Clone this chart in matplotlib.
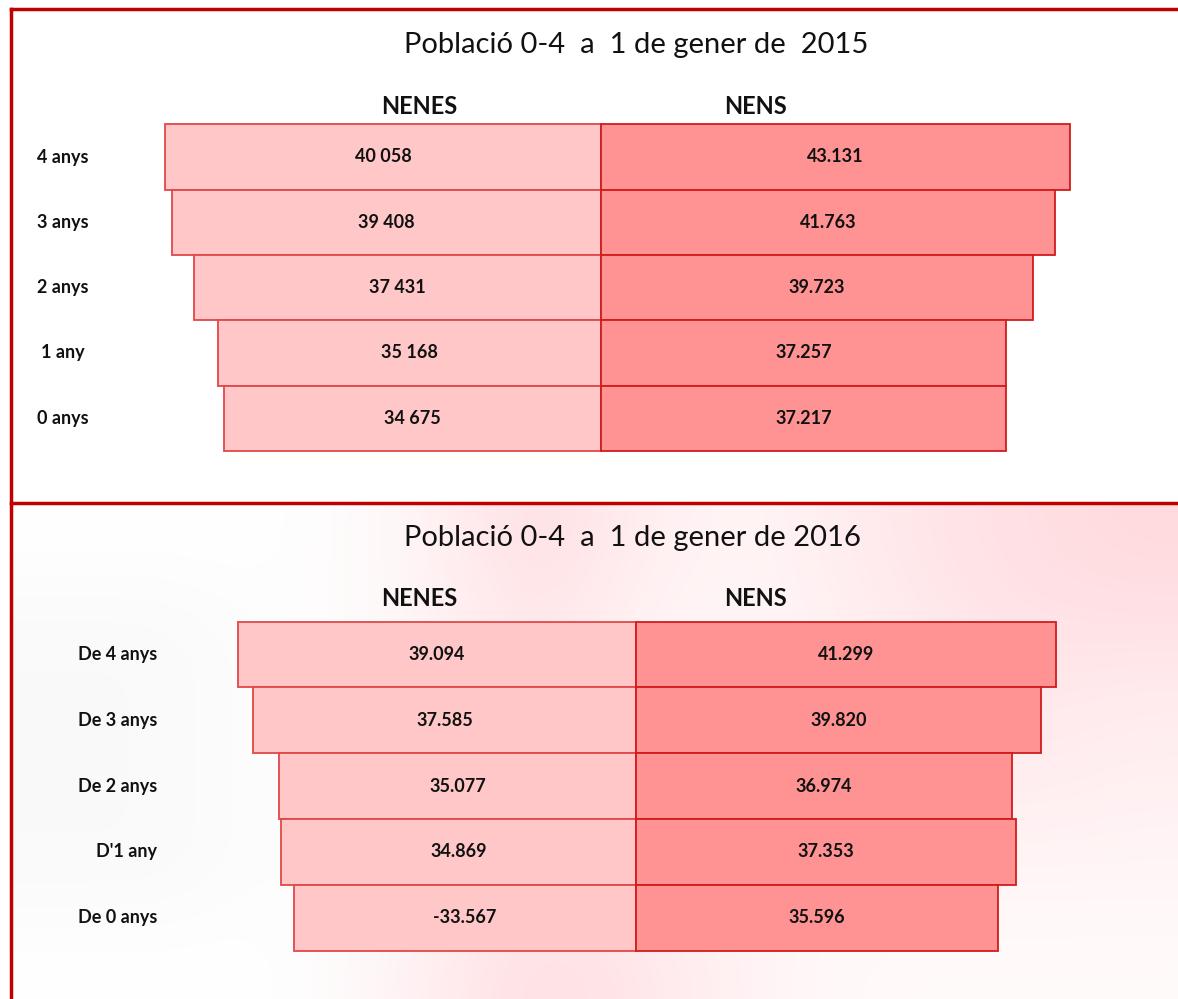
import matplotlib.pyplot as plt
import numpy as np
from matplotlib.lines import Line2D

plt.rcParams['font.family'] = ['Lato', 'DejaVu Sans']

# Dades ##########################################################

edats_2015 = ["4 anys", "3 anys", "2 anys", "1 any", "0 anys"]
nenes_2015 = [40058, 39408, 37431, 35168, 34675]
nens_2015 = [43131, 41763, 39723, 37257, 37217]
etiq_nenes_2015 = ["40 058", "39 408", "37 431", "35 168", "34 675"]
etiq_nens_2015 = ["43.131", "41.763", "39.723", "37.257", "37.217"]

edats_2016 = ["De 4 anys", "De 3 anys", "De 2 anys", "D'1 any", "De 0 anys"]
nenes_2016 = [39094, 37585, 35077, 34869, 33567]
nens_2016 = [41299, 39820, 36974, 37353, 35596]
etiq_nenes_2016 = ["39.094", "37.585", "35.077", "34.869", "-33.567"]
etiq_nens_2016 = ["41.299", "39.820", "36.974", "37.353", "35.596"]

# Estil ##########################################################

W, H = 1178, 999
ROSA_CLAR = "#ffc7c7"
ROSA = "#ff9292"
VORA_CLAR = "#e04848"
VORA = "#d01c1c"
VERMELL = "#c00000"
NEGRE = "#111111"


def piramide(ax, edats, nenes, nens, etiq_f, etiq_m, centre, escala,
             fila0, pas, alt, etiq_x, etiq_ha):
    ax.set_xlim(-centre / escala, (W - centre) / escala)
    ax.set_ylim((alt - fila0) / pas, -fila0 / pas)
    y = np.arange(len(edats))
    ax.barh(y, -np.array(nenes), height=1, color=ROSA_CLAR,
            edgecolor=VORA_CLAR, linewidth=1.3)
    ax.barh(y, nens, height=1, color=ROSA, edgecolor=VORA, linewidth=1.3)
    for i in range(len(edats)):
        ax.text(-nenes[i] / 2, i, etiq_f[i], ha='center', va='center',
                fontsize=13, fontweight='bold', color=NEGRE)
        ax.text(nens[i] / 2, i, etiq_m[i], ha='center', va='center',
                fontsize=13, fontweight='bold', color=NEGRE)
        ax.text(etiq_x / W, i, edats[i], transform=ax.get_yaxis_transform(),
                ha=etiq_ha, va='center', fontsize=13, fontweight='bold',
                color=NEGRE)
    ax.axis('off')


fig = plt.figure(figsize=(W / 100, H / 100), dpi=100)
fig.patch.set_facecolor('white')

# fons difuminat (marca d'aigua) del panell inferior
fons = fig.add_axes([11 / W, 0, 1 - 11 / W, 494 / H], zorder=0)
rosa = np.array([
    [0, 0, 0, 0.04, 0.15, 0.06, 0.04, 0.10, 0.13, 0.16],
    [0, 0, 0, 0.04, 0.12, 0.04, 0.04, 0.08, 0.12, 0.12],
    [0, 0, 0, 0.04, 0.10, 0.04, 0.04, 0.06, 0.10, 0.08],
    [0, 0, 0, 0.04, 0.08, 0.04, 0.04, 0.04, 0.08, 0.06],
    [0, 0, 0, 0.04, 0.10, 0.06, 0.04, 0.04, 0.04, 0.04],
    [0, 0, 0, 0.06, 0.15, 0.10, 0.04, 0.02, 0.02, 0.02],
])
gris = np.zeros_like(rosa)
gris[1:5, 0:2] = 0.02
img = np.ones(rosa.shape + (3,))
img[..., 1] -= rosa * 0.9
img[..., 2] -= rosa * 0.8
img -= gris[..., None]
fons.imshow(img, aspect='auto', interpolation='bicubic')
fons.axis('off')

ax1 = fig.add_axes([0, 1 - 503 / H, 1, 503 / H], zorder=1)
ax2 = fig.add_axes([0, 0, 1, 503 / H], zorder=1)
ax1.patch.set_alpha(0)
ax2.patch.set_alpha(0)

piramide(ax1, edats_2015, nenes_2015, nens_2015, etiq_nenes_2015, etiq_nens_2015,
         centre=601, escala=0.01088, fila0=157, pas=65.3, alt=503,
         etiq_x=63, etiq_ha='center')
piramide(ax2, edats_2016, nenes_2016, nens_2016, etiq_nenes_2016, etiq_nens_2016,
         centre=636, escala=0.01018, fila0=654.5 - 496, pas=65.8, alt=503,
         etiq_x=157, etiq_ha='right')

# Titols i capcaleres
fig.text(636 / W, 1 - 45 / H, "Població 0-4  a  1 de gener de  2015",
         ha='center', va='center', fontsize=21, color=NEGRE)
fig.text(632 / W, 1 - 538 / H, "Població 0-4  a  1 de gener de 2016",
         ha='center', va='center', fontsize=21, color=NEGRE)
for yy in (107, 599):
    fig.text(419 / W, 1 - yy / H, "NENES", ha='center', va='center',
             fontsize=17, fontweight='bold', color=NEGRE)
    fig.text(756 / W, 1 - yy / H, "NENS", ha='center', va='center',
             fontsize=17, fontweight='bold', color=NEGRE)

# Vores vermelles
for xs, ys in [((11, 11), (9, H)), ((11, W), (9, 9)), ((11, W), (503, 503))]:
    fig.add_artist(Line2D([x / W for x in xs], [1 - y / H for y in ys],
                          color=VERMELL, linewidth=2.5, transform=fig.transFigure))

plt.savefig("out.png", dpi=100)
